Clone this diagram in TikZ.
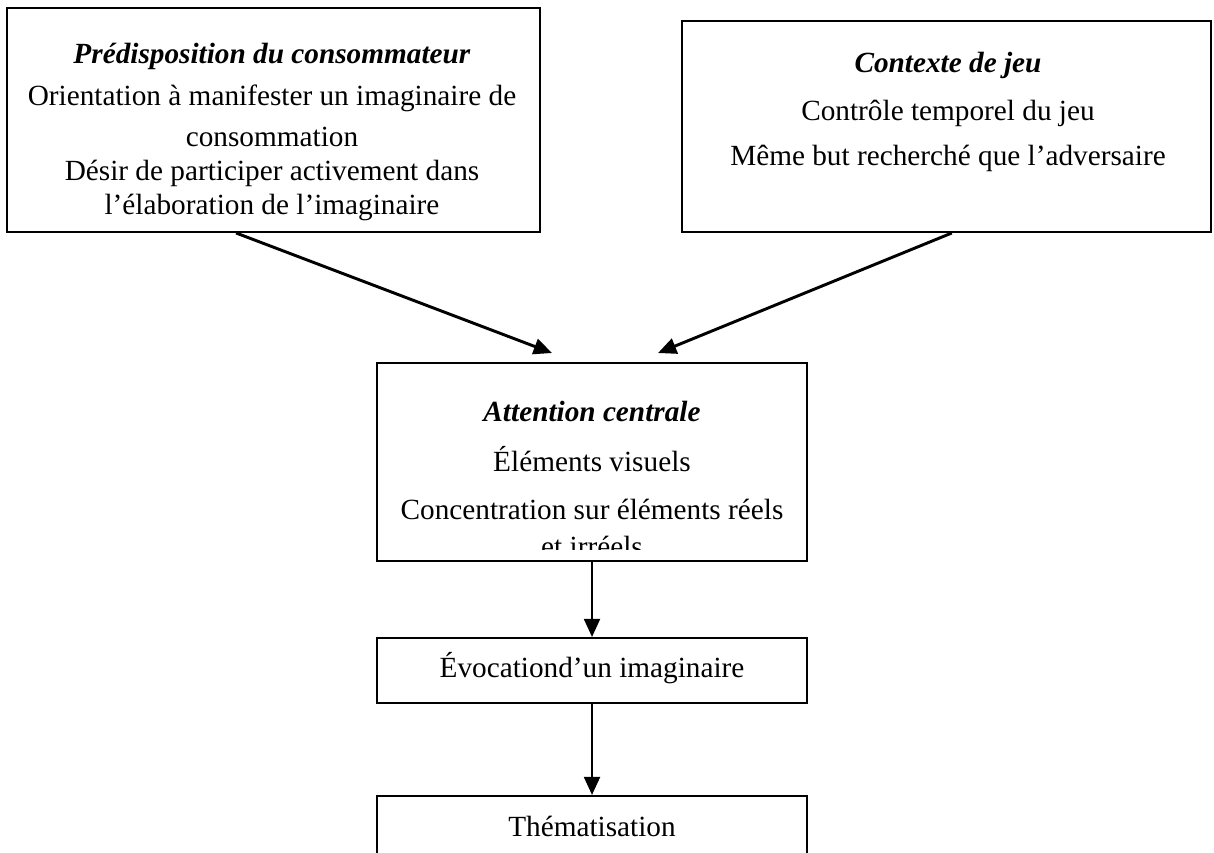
\documentclass[tikz,border=0pt]{standalone}
\usepackage{fontspec}
\setmainfont{Liberation Serif}
\usetikzlibrary{calc}
\usetikzlibrary{fit}
\usetikzlibrary{arrows.meta}
\tikzset{
  box/.style={draw, line width=0.8pt, inner sep=0pt},
  txt/.style={align=center, inner sep=0pt, font=\fontsize{12}{13.8}\selectfont},
  arr/.style={line width=1.2pt, -{Triangle[length=7.5pt,width=6.5pt]}}
}
\newcommand{\ttl}[1]{\textbf{\textit{#1}}}

\begin{document}
\begin{tikzpicture}[x=0.41pt, y=-0.41pt]
        \useasboundingbox (0,0) rectangle (1214,852);
        \clip (0,0) rectangle (1214,852);
        % boxes
        \node[box, fit={(7,8) (540,232)}] (pred) {};
        \node[box, fit={(682,21) (1211,232)}] (ctx) {};
        \node[box, fit={(377,363) (807,561)}] (att) {};
        \node[box, fit={(377,638) (807,703)}] (evo) {};
        \node[box, fit={(377,796) (807,880)}] (them) {};
        % texts of the top row
        \node[txt] (predtxt) at (272,132) {\ttl{Prédisposition du consommateur}\\[3.4pt]
            Orientation à manifester un imaginaire de\\[3pt]
            consommation\\
            Désir de participer activement dans\\
            l’élaboration de l’imaginaire};
        \node[txt] (ctxtxt) at (948,112) {\ttl{Contexte de jeu}\\[5.5pt]
            Contrôle temporel du jeu\\[4.7pt]
            Même but recherché que l’adversaire};
        % text of the middle box, cut at its bottom
        \begin{scope}
            \clip (377,363) rectangle (807,549);
            \node[txt] (atttxt) at (592,479) {\ttl{Attention centrale}\\[6.7pt]
                Éléments visuels\\[5.9pt]
                Concentration sur éléments réels\\[1.4pt]
                et irréels};
        \end{scope}
        \node[txt] (evotxt) at (592,668) {Évocationd’un imaginaire};
        \node[txt] (themtxt) at (592,826) {Thématisation};
        % arrows
        \coordinate (tipL) at (552,353);
        \coordinate (tipR) at (658,353);
        \draw[arr] ($(pred.south west)!0.43!(pred.south east)$) -- (tipL);
        \draw[arr] ($(ctx.south west)!0.51!(ctx.south east)$) -- (tipR);
        \draw[arr] (att.south) -- (evo.north);
        \draw[arr] (evo.south) -- (them.north);
\end{tikzpicture}
\end{document}
